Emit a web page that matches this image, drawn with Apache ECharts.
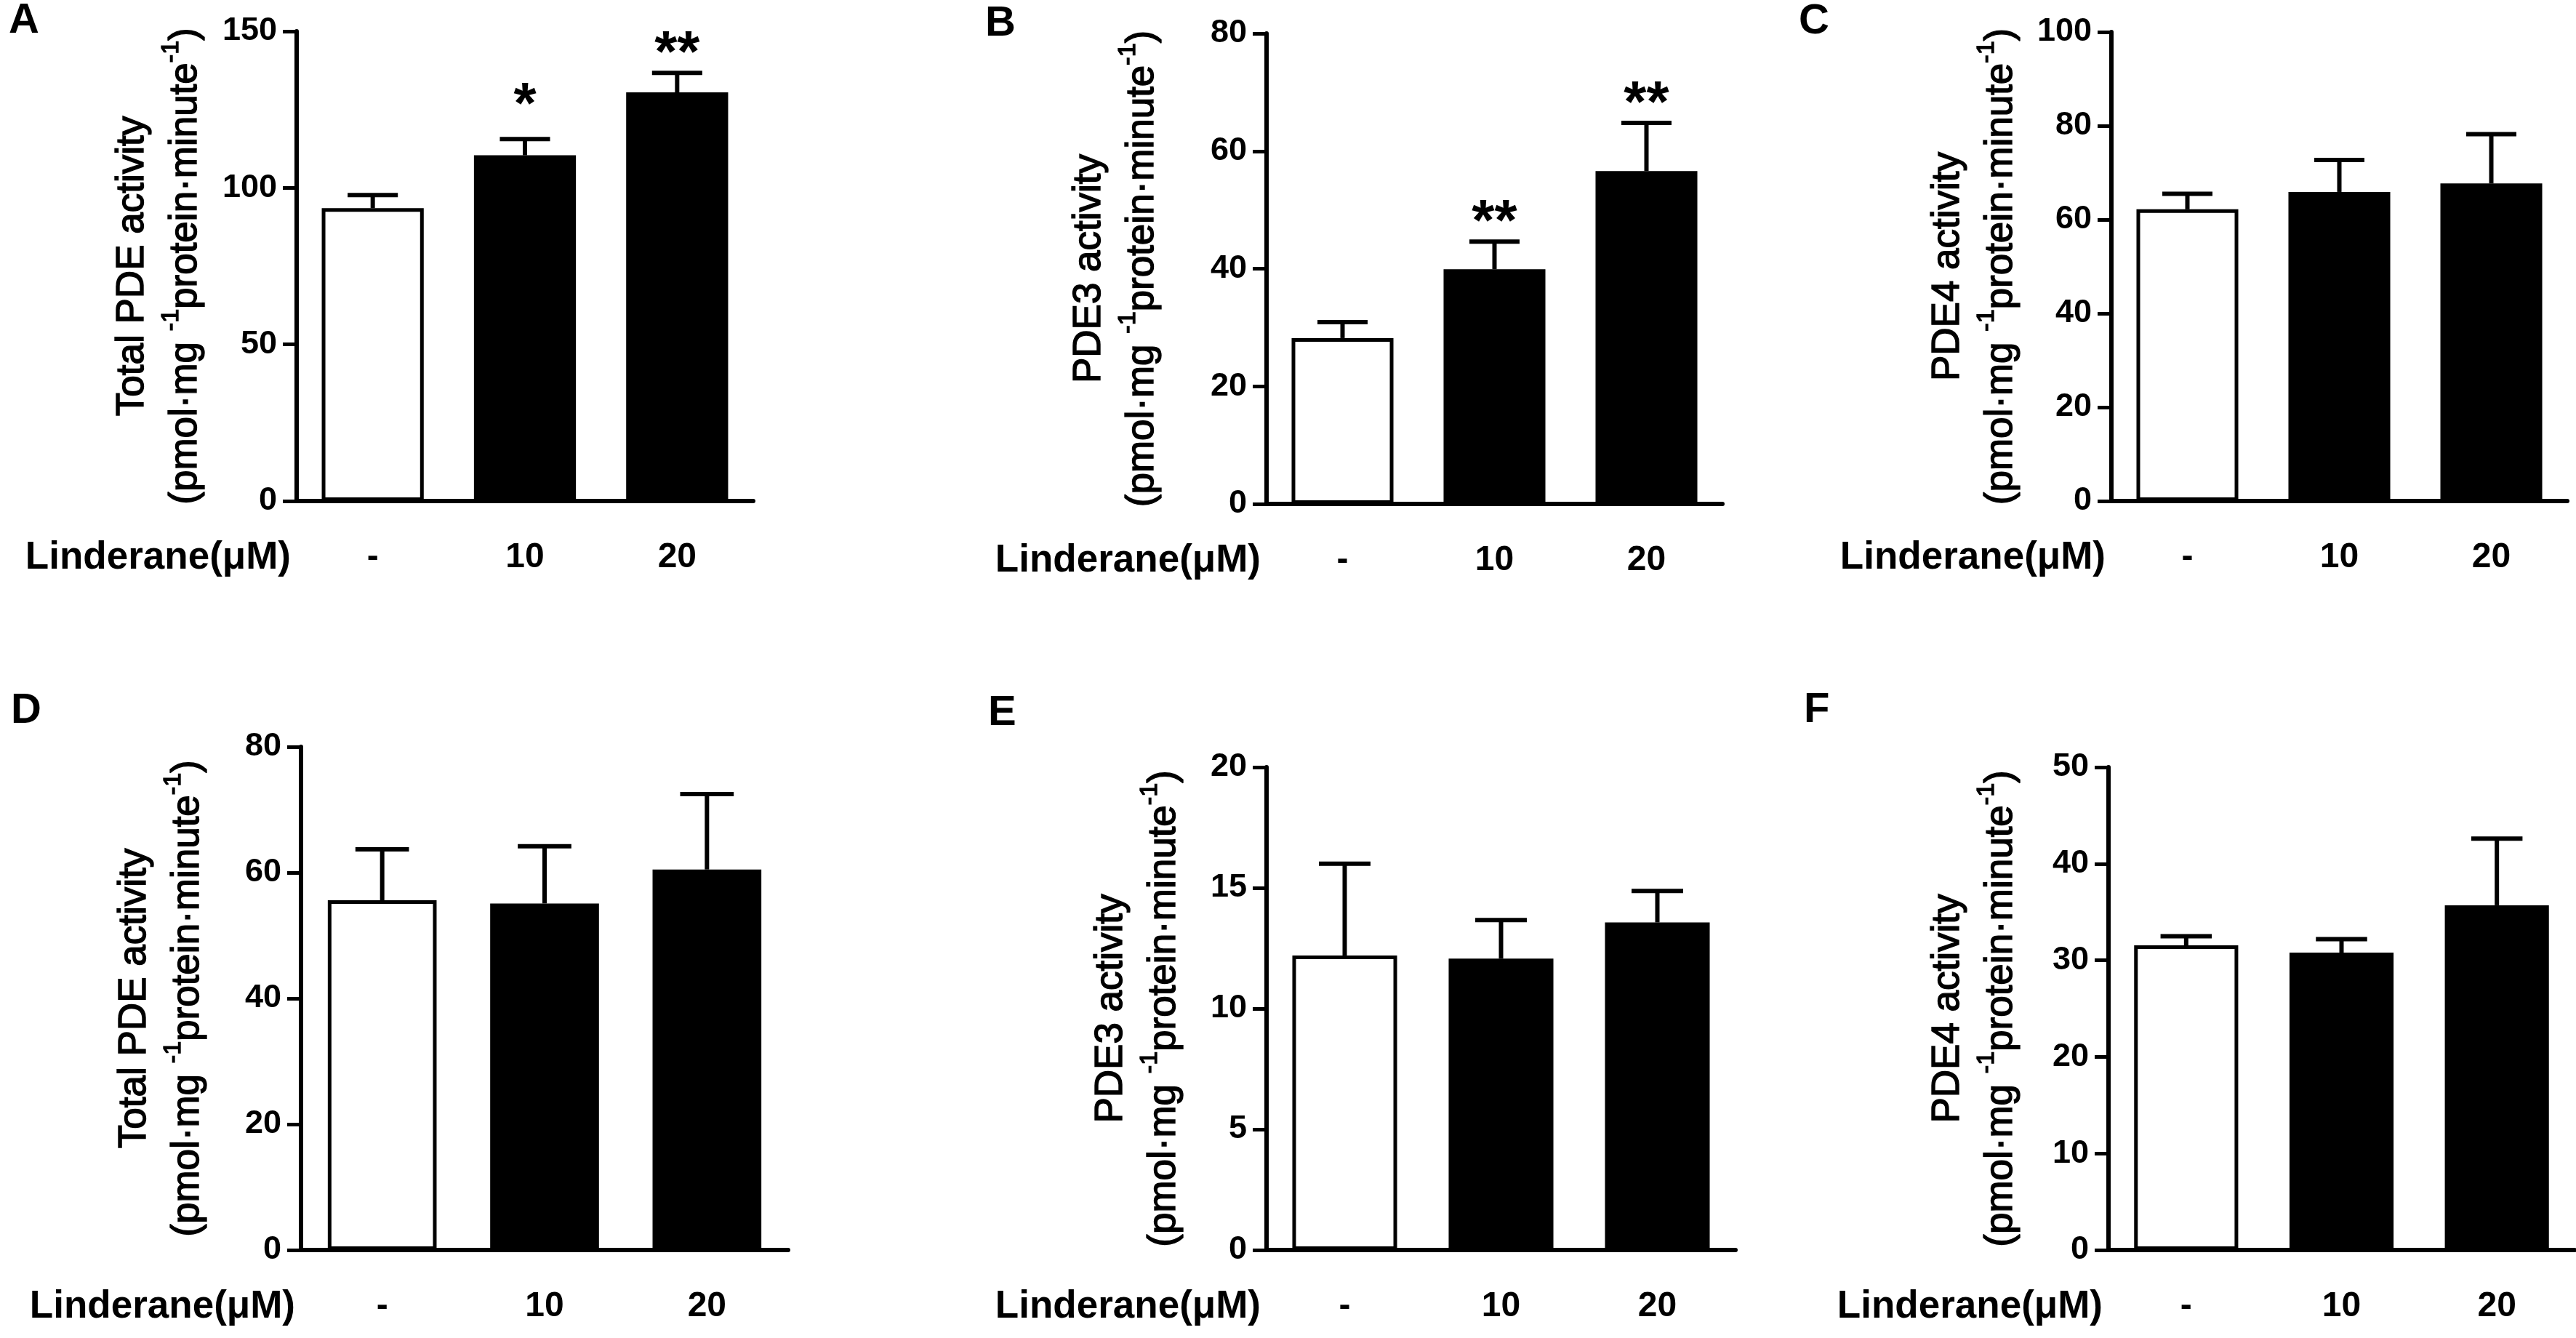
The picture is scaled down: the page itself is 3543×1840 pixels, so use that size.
<!DOCTYPE html>
<html>
<head>
<meta charset="utf-8">
<script src="https://cdn.jsdelivr.net/npm/echarts@6/dist/echarts.min.js"></script>
<style>
  html, body { margin: 0; padding: 0; background: #fff; }
  #chart { width: 3543px; height: 1840px; }
</style>
</head>
<body>
<div id="chart"></div>
<script>
// ---- data (mean and SEM, pmol·mg-1 protein·minute-1) ----
const doses = ['-', '10', '20'];
const xLabel = 'Linderane(μM)';
const letters = ['A', 'B', 'C', 'D', 'E', 'F'];
const activityNames = ['Total PDE activity', 'PDE3 activity', 'PDE4 activity',
                       'Total PDE activity', 'PDE3 activity', 'PDE4 activity'];
const yMax  = [150, 80, 100, 80, 20, 50];
const yStep = [50, 20, 20, 20, 5, 10];

const meanA = [93.5, 110.4, 130.5];
const semA  = [4.2, 5.2, 6.2];
const starsA = ['', '*', '**'];

const meanB = [28.2, 39.9, 56.6];
const semB  = [2.7, 4.7, 8.2];
const starsB = ['', '**', '**'];

const meanC = [62.2, 65.9, 67.7];
const semC  = [3.3, 6.8, 10.5];

const meanD = [55.6, 55.1, 60.5];
const semD  = [8.1, 9.1, 12.0];

const meanE = [12.2, 12.07, 13.57];
const semE  = [3.8, 1.6, 1.3];

const meanF = [31.55, 30.8, 35.7];
const semF  = [0.95, 1.4, 6.9];

const noStars = ['', '', ''];
const means = [meanA, meanB, meanC, meanD, meanE, meanF];
const sems  = [semA, semB, semC, semD, semE, semF];
const stars = [starsA, starsB, noStars, noStars, noStars, noStars];

// ---- panel boxes on the page (px) ----
const boxes = [
  { left: 408,  top: 43,   width: 628, height: 646, titleGap: 116 },
  { left: 1742, top: 46,   width: 627, height: 647, titleGap: 134 },
  { left: 2904, top: 44,   width: 627, height: 645, titleGap: 115 },
  { left: 414,  top: 1027, width: 670, height: 692, titleGap: 119 },
  { left: 1742, top: 1055, width: 645, height: 664, titleGap: 104 },
  { left: 2900, top: 1055, width: 641, height: 664, titleGap: 111 },
];
const letterPos = [[12, 29], [1355, 33], [2474, 30], [15, 978], [1359, 981], [2481, 977]];

const FONT = '"Liberation Sans", Arial, Helvetica, sans-serif';
const chart = echarts.init(document.getElementById('chart'), null, { renderer: 'canvas' });

const grids = [], xAxes = [], yAxes = [], series = [], graphics = [];

// the printed axis titles are a little heavier than a plain regular face
const titleInk = { color: '#000', textBorderColor: '#000', textBorderWidth: 1.4 };

boxes.forEach((b, k) => {
  grids.push({ left: b.left, top: b.top, width: b.width, height: b.height,
               containLabel: false, outerBoundsMode: 'none' });

  xAxes.push({
    type: 'category', gridIndex: k, data: doses,
    axisLine: { lineStyle: { color: '#000', width: 6 } },
    axisTick: { alignWithLabel: true, length: 18, lineStyle: { color: '#000', width: 5 } },
    axisLabel: { color: '#000', fontFamily: FONT, fontWeight: 'bold', fontSize: 48,
                 lineHeight: 48, margin: 54 },
  });

  yAxes.push({
    type: 'value', gridIndex: k, min: 0, max: yMax[k], interval: yStep[k],
    axisLine: { show: true, lineStyle: { color: '#000', width: 6 } },
    axisTick: { show: true, length: 19, lineStyle: { color: '#000', width: 5 } },
    splitLine: { show: false },
    axisLabel: { color: '#000', fontFamily: FONT, fontWeight: 'bold', fontSize: 45, margin: 27 },
    name: '{t|' + activityNames[k] + '}\n{t|(pmol·mg }{s|-1}{t|protein·minute}{s|-1}{t|)}',
    nameLocation: 'middle', nameRotate: 90, nameGap: b.titleGap, nameMoveOverlap: false,
    nameTextStyle: {
      rich: {
        t: Object.assign({ fontFamily: FONT, fontSize: 53, lineHeight: 73 }, titleInk),
        s: Object.assign({ fontFamily: FONT, fontSize: 34, lineHeight: 52, verticalAlign: 'top' }, titleInk),
      },
    },
  });

  series.push({
    type: 'bar', xAxisIndex: k, yAxisIndex: k, barWidth: '67%',
    data: means[k].map((v, i) => ({ value: v, itemStyle: { color: i === 0 ? '#fff' : '#000' } })),
    itemStyle: { borderColor: '#000', borderWidth: 5 },
    silent: true, animation: false, z: 2,
  });

  const panelStars = stars[k];
  series.push({
    type: 'custom', xAxisIndex: k, yAxisIndex: k, silent: true, animation: false, z: 3,
    data: means[k].map((v, i) => [i, v, v + sems[k][i]]),
    renderItem: (params, api) => {
      const p0 = api.coord([api.value(0), api.value(1)]);
      const p1 = api.coord([api.value(0), api.value(2)]);
      const half = api.size([1, 0])[0] * 0.165;
      const ink = { stroke: '#000', lineWidth: 6 };
      const children = [
        { type: 'line', shape: { x1: p0[0], y1: p0[1], x2: p1[0], y2: p1[1] }, style: ink },
        { type: 'line', shape: { x1: p1[0] - half, y1: p1[1], x2: p1[0] + half, y2: p1[1] }, style: ink },
      ];
      const s = panelStars[params.dataIndex];
      if (s) {
        // a lone star sits a bit higher above its bar than a pair does
        const lift = s.length === 1 ? 44 : 24;
        children.push({
          type: 'text',
          style: { text: s, x: p1[0], y: p1[1] - lift, align: 'center', verticalAlign: 'middle',
                   font: 'bold 80px ' + FONT, fill: '#000' },
        });
      }
      return { type: 'group', children };
    },
  });

  // "Linderane(μM)" row label, level with the dose labels
  graphics.push({
    type: 'text',
    x: b.left - 8, y: b.top + b.height + 78,
    style: { text: xLabel, align: 'right', verticalAlign: 'middle',
             font: 'bold 53px ' + FONT, fill: '#000' },
  });
  // panel letter
  graphics.push({
    type: 'text', x: letterPos[k][0], y: letterPos[k][1],
    style: { text: letters[k], align: 'left', verticalAlign: 'middle',
             font: 'bold 58px ' + FONT, fill: '#000' },
  });
});

chart.setOption({
  backgroundColor: '#fff',
  animation: false,
  textStyle: { fontFamily: FONT },
  grid: grids,
  xAxis: xAxes,
  yAxis: yAxes,
  series,
  graphic: graphics,
});
</script>
</body>
</html>
